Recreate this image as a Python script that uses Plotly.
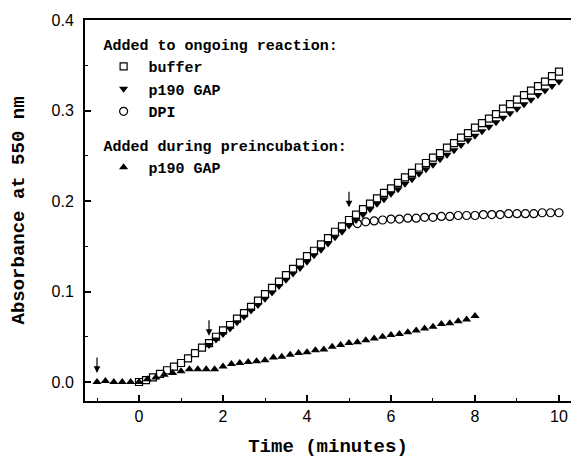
import plotly.graph_objects as go

# ---------------- data (time in minutes, absorbance at 550 nm) ----------------
buffer_t = [0.000, 0.167, 0.333, 0.500, 0.667, 0.833, 1.000, 1.167, 1.333, 1.500,
            1.667, 1.833, 2.000, 2.167, 2.333, 2.500, 2.667, 2.833, 3.000, 3.167,
            3.333, 3.500, 3.667, 3.833, 4.000, 4.167, 4.333, 4.500, 4.667, 4.833,
            5.000, 5.167, 5.333, 5.500, 5.667, 5.833, 6.000, 6.167, 6.333, 6.500,
            6.667, 6.833, 7.000, 7.167, 7.333, 7.500, 7.667, 7.833, 8.000, 8.167,
            8.333, 8.500, 8.667, 8.833, 9.000, 9.167, 9.333, 9.500, 9.667, 9.833,
            10.000]
buffer_a = [0.000, 0.002, 0.005, 0.009, 0.013, 0.017, 0.021, 0.026, 0.032, 0.038,
            0.043, 0.050, 0.057, 0.063, 0.070, 0.076, 0.083, 0.090, 0.097, 0.104,
            0.111, 0.118, 0.125, 0.132, 0.139, 0.145, 0.152, 0.159, 0.166, 0.172,
            0.179, 0.185, 0.191, 0.197, 0.203, 0.209, 0.214, 0.220, 0.226, 0.231,
            0.237, 0.242, 0.248, 0.253, 0.259, 0.264, 0.270, 0.275, 0.281, 0.286,
            0.291, 0.296, 0.302, 0.307, 0.312, 0.317, 0.322, 0.327, 0.332, 0.338,
            0.343]

gap_ongoing_t = [1.667, 1.833, 2.000, 2.167, 2.333, 2.500, 2.667, 2.833, 3.000, 3.167,
                 3.333, 3.500, 3.667, 3.833, 4.000, 4.167, 4.333, 4.500, 4.667, 4.833,
                 5.000, 5.167, 5.333, 5.500, 5.667, 5.833, 6.000, 6.167, 6.333, 6.500,
                 6.667, 6.833, 7.000, 7.167, 7.333, 7.500, 7.667, 7.833, 8.000, 8.167,
                 8.333, 8.500, 8.667, 8.833, 9.000, 9.167, 9.333, 9.500, 9.667, 9.833,
                 10.000]
gap_ongoing_a = [0.041, 0.047, 0.053, 0.059, 0.066, 0.072, 0.079, 0.085, 0.092, 0.099,
                 0.106, 0.113, 0.120, 0.126, 0.133, 0.140, 0.146, 0.153, 0.160, 0.166,
                 0.173, 0.179, 0.185, 0.191, 0.197, 0.202, 0.208, 0.213, 0.219, 0.224,
                 0.230, 0.235, 0.240, 0.246, 0.251, 0.256, 0.262, 0.267, 0.272, 0.277,
                 0.282, 0.287, 0.292, 0.297, 0.302, 0.307, 0.312, 0.317, 0.322, 0.327,
                 0.332]

dpi_t = [5.2, 5.4, 5.6, 5.8, 6.0, 6.2, 6.4, 6.6, 6.8, 7.0, 7.2, 7.4, 7.6, 7.8, 8.0,
         8.2, 8.4, 8.6, 8.8, 9.0, 9.2, 9.4, 9.6, 9.8, 10.0]
dpi_a = [0.175, 0.177, 0.178, 0.179, 0.180, 0.180, 0.181, 0.181, 0.182, 0.182,
         0.183, 0.183, 0.184, 0.184, 0.184, 0.185, 0.185, 0.185, 0.186, 0.186,
         0.186, 0.186, 0.187, 0.187, 0.187]

gap_preinc_t = [-1.0, -0.8, -0.6, -0.4, -0.2, 0.0, 0.2, 0.4, 0.6, 0.8, 1.0, 1.2, 1.4,
                1.6, 1.8, 2.0, 2.2, 2.4, 2.6, 2.8, 3.0, 3.2, 3.4, 3.6, 3.8, 4.0, 4.2,
                4.4, 4.6, 4.8, 5.0, 5.2, 5.4, 5.6, 5.8, 6.0, 6.2, 6.4, 6.6, 6.8, 7.0,
                7.2, 7.4, 7.6, 7.8, 8.0]
gap_preinc_a = [0.000, 0.001, 0.000, 0.000, 0.000, 0.000, 0.003, 0.005, 0.008, 0.010,
                0.012, 0.014, 0.014, 0.014, 0.014, 0.017, 0.020, 0.021, 0.022, 0.023,
                0.024, 0.027, 0.028, 0.030, 0.032, 0.033, 0.035, 0.036, 0.039, 0.041,
                0.043, 0.044, 0.046, 0.048, 0.050, 0.052, 0.053, 0.055, 0.057, 0.059,
                0.061, 0.064, 0.065, 0.067, 0.069, 0.073]

# additions (arrow positions): time, absorbance at arrow tip
arrow_t = [-1.0, 1.667, 5.0]
arrow_a = [0.010, 0.051, 0.193]

x_ticks = [0, 2, 4, 6, 8, 10]
y_ticks = [0.0, 0.1, 0.2, 0.3, 0.4]
y_tick_text = ["0.0", "0.1", "0.2", "0.3", "0.4"]

MONO = "Liberation Mono"
SANS = "Liberation Sans"

fig = go.Figure()

fig.add_trace(go.Scatter(
    x=buffer_t, y=buffer_a, mode="markers", name="buffer",
    legendgroup="ongoing", legendgrouptitle=dict(text="Added to ongoing reaction:"),
    marker=dict(symbol="square-open", size=7, color="black", line=dict(width=1.2, color="black"))))
fig.add_trace(go.Scatter(
    x=gap_ongoing_t, y=gap_ongoing_a, mode="markers", name="p190 GAP",
    legendgroup="ongoing",
    marker=dict(symbol="triangle-down", size=8, color="black")))
fig.add_trace(go.Scatter(
    x=dpi_t, y=dpi_a, mode="markers", name="DPI",
    legendgroup="ongoing",
    marker=dict(symbol="circle-open", size=8, color="black", line=dict(width=1.2, color="black"))))
fig.add_trace(go.Scatter(
    x=gap_preinc_t, y=gap_preinc_a, mode="markers", name="p190 GAP",
    legendgroup="preinc", legendgrouptitle=dict(text="Added during preincubation:"),
    marker=dict(symbol="triangle-up", size=8, color="black")))

for t, a in zip(arrow_t, arrow_a):
    fig.add_annotation(x=t, y=a, xref="x", yref="y", text="", showarrow=True,
                       ax=0, ay=-17, arrowhead=2, arrowsize=1.1, arrowwidth=1.2,
                       arrowcolor="black")

fig.update_layout(
    width=571, height=460,
    margin=dict(l=85, r=0, t=20, b=59),
    paper_bgcolor="white", plot_bgcolor="white",
    showlegend=True,
    legend=dict(
        x=0.028, y=0.980, xanchor="left", yanchor="top",
        font=dict(family=MONO, size=15, color="black", weight="bold"),
        grouptitlefont=dict(family=MONO, size=15, color="black", weight="bold"),
        bgcolor="rgba(0,0,0,0)", traceorder="grouped", tracegroupgap=11,
        itemwidth=40,
    ),
    xaxis=dict(
        range=[-1.286, 10.286], tickvals=x_ticks, ticks="inside", ticklen=6,
        tickwidth=1.5, tickcolor="black", showline=True, linecolor="black",
        linewidth=2, mirror=True, showgrid=False, zeroline=False,
        tickfont=dict(family=SANS, size=16, color="black"),
        minor=dict(dtick=1, tick0=0, ticks="inside", ticklen=3, tickwidth=1.2,
                   tickcolor="black", showgrid=False),
        title=dict(text="Time (minutes)", font=dict(family=MONO, size=19, color="black",
                                                    weight="bold"), standoff=14),
    ),
    yaxis=dict(
        range=[-0.021, 0.4], tickvals=y_ticks, ticktext=y_tick_text, ticks="inside",
        ticklen=6, tickwidth=1.5, tickcolor="black", showline=True, linecolor="black",
        linewidth=2, showgrid=False, zeroline=False, ticklabelstandoff=6,
        tickfont=dict(family=SANS, size=16, color="black"),
        minor=dict(dtick=0.05, tick0=0, ticks="inside", ticklen=3, tickwidth=1.2,
                   tickcolor="black", showgrid=False),
        title=dict(text="Absorbance at 550 nm", font=dict(family=MONO, size=19,
                                                          color="black", weight="bold"),
                   standoff=22),
    ),
)

fig.write_html("out.html")
